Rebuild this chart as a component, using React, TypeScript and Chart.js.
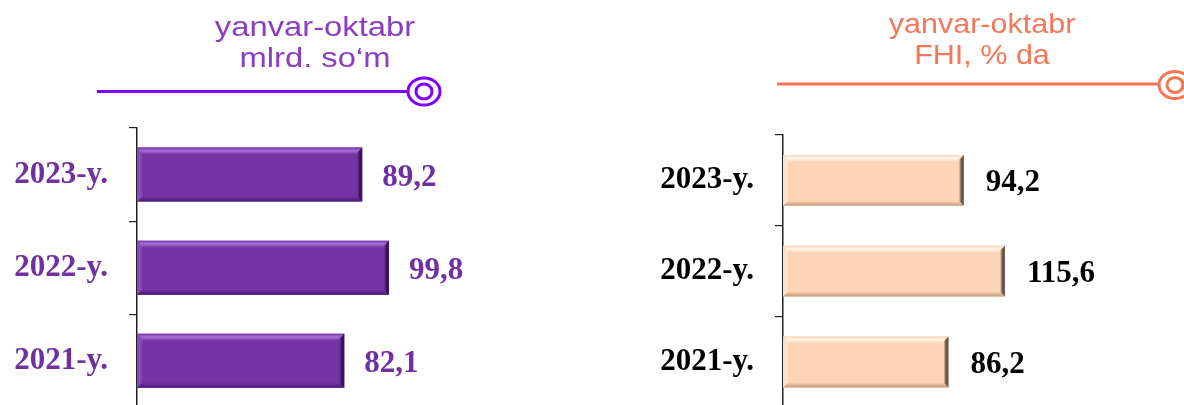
import React, { useEffect, useRef } from "react";
import { Chart, registerables } from "chart.js";

Chart.register(...registerables);

// ---- data ----
const categories = ["2023-y.", "2022-y.", "2021-y."];
const sumValues = [89.2, 99.8, 82.1]; // yanvar-oktabr, mlrd. so‘m
const fhiValues = [94.2, 115.6, 86.2]; // yanvar-oktabr, FHI, % da
const leftTitle = ["yanvar-oktabr", "mlrd. so‘m"];
const rightTitle = ["yanvar-oktabr", "FHI, % da"];

const fmt = (v: number) => v.toFixed(1).replace(".", ",");

const CANVAS_H = 447;

type Panel = {
  values: number[];
  title: string[];
  left: number;
  width: number;
  axisX: number;
  top: number;
  padBottom: number;
  padRight: number;
  xMax: number;
  barPct: number;
  catColor: string;
  valColor: string;
  titleColor: string;
  lineColor: string;
  titleCx: number;
  titleY1: number;
  titleY2: number;
  titleScale: number;
  lineX0: number;
  lineY: number;
  circleX: number;
  circleY: number;
  body: string;
  topHi: string;
  leftHi: string;
  botDark: string;
  rightDark: string;
  bevel: number;
  labelGap: number;
};

const leftPanel: Panel = {
  values: sumValues,
  title: leftTitle,
  left: 0,
  width: 560,
  axisX: 137,
  top: 128,
  padBottom: 13,
  padRight: 19,
  xMax: 160,
  barPct: 0.58,
  catColor: "#7030a0",
  valColor: "#7030a0",
  titleColor: "#8b3dc4",
  lineColor: "#8000ff",
  titleCx: 315,
  titleY1: 36,
  titleY2: 67,
  titleScale: 1.17,
  lineX0: 97,
  lineY: 91.5,
  circleX: 424,
  circleY: 91.5,
  body: "#7533a6",
  topHi: "#a772d6",
  leftHi: "#8a4cbc",
  botDark: "#4a1872",
  rightDark: "#3a1060",
  bevel: 5,
  labelGap: 20,
};

const rightPanel: Panel = {
  values: fhiValues,
  title: rightTitle,
  left: 560,
  width: 624,
  axisX: 223,
  top: 135,
  padBottom: 12,
  padRight: 17,
  xMax: 200,
  barPct: 0.56,
  catColor: "#000000",
  valColor: "#000000",
  titleColor: "#f4775a",
  lineColor: "#f47454",
  titleCx: 422,
  titleY1: 33,
  titleY2: 64,
  titleScale: 1.09,
  lineX0: 217,
  lineY: 84,
  circleX: 615,
  circleY: 85,
  body: "#fbd5b6",
  topHi: "#fff6ee",
  leftHi: "#fde3cd",
  botDark: "#c39877",
  rightDark: "#6a564a",
  bevel: 5,
  labelGap: 22,
};

function poly(ctx: CanvasRenderingContext2D, pts: number[][], fill: string | CanvasGradient) {
  ctx.beginPath();
  ctx.moveTo(pts[0][0], pts[0][1]);
  for (let i = 1; i < pts.length; i++) ctx.lineTo(pts[i][0], pts[i][1]);
  ctx.closePath();
  ctx.fillStyle = fill;
  ctx.fill();
}

function makePlugins(p: Panel) {
  const header = {
    id: "header",
    afterDraw(chart: any) {
      const ctx: CanvasRenderingContext2D = chart.ctx;
      ctx.save();
      ctx.fillStyle = p.titleColor;
      ctx.font = '28px "Liberation Sans", Arial, sans-serif';
      ctx.textAlign = "center";
      ctx.textBaseline = "alphabetic";
      [p.titleY1, p.titleY2].forEach((yy, i) => {
        ctx.save();
        ctx.translate(p.titleCx, yy);
        ctx.scale(p.titleScale, 1);
        ctx.fillText(p.title[i], 0, 0);
        ctx.restore();
      });
      ctx.strokeStyle = p.lineColor;
      ctx.lineWidth = 3;
      ctx.beginPath();
      ctx.moveTo(p.lineX0, p.lineY);
      ctx.lineTo(p.circleX - 16, p.lineY);
      ctx.stroke();
      ctx.beginPath();
      ctx.ellipse(p.circleX, p.circleY, 16, 13.5, 0, 0, Math.PI * 2);
      ctx.fillStyle = "#ffffff";
      ctx.fill();
      ctx.stroke();
      ctx.beginPath();
      ctx.ellipse(p.circleX, p.circleY, 8, 7.5, 0, 0, Math.PI * 2);
      ctx.stroke();
      ctx.restore();
    },
  };

  const bevel = {
    id: "bevel",
    afterDatasetsDraw(chart: any) {
      const ctx: CanvasRenderingContext2D = chart.ctx;
      const meta = chart.getDatasetMeta(0);
      ctx.save();
      meta.data.forEach((el: any) => {
        const { x, y, base, height } = el.getProps(["x", "y", "base", "height"], true);
        const l = Math.min(base, x);
        const r = Math.max(base, x);
        const t = y - height / 2;
        const b = y + height / 2;
        const s = p.bevel;
        const gTop = ctx.createLinearGradient(0, t, 0, t + s + 2);
        gTop.addColorStop(0, p.body);
        gTop.addColorStop(0.45, p.topHi);
        gTop.addColorStop(1, p.body);
        poly(ctx, [[l, t], [r, t], [r - s, t + s + 2], [l + s, t + s + 2]], gTop);
        const gBot = ctx.createLinearGradient(0, b - s, 0, b);
        gBot.addColorStop(0, p.body);
        gBot.addColorStop(1, p.botDark);
        poly(ctx, [[l, b], [r, b], [r - s, b - s], [l + s, b - s]], gBot);
        poly(ctx, [[l, t], [l + s, t + s], [l + s, b - s], [l, b]], p.leftHi);
        const gR = ctx.createLinearGradient(r - s, 0, r, 0);
        gR.addColorStop(0, p.body);
        gR.addColorStop(0.5, p.rightDark);
        gR.addColorStop(1, p.rightDark);
        poly(ctx, [[r, t], [r - s, t + s], [r - s, b - s], [r, b]], gR);
      });
      ctx.restore();
    },
  };

  const values = {
    id: "values",
    afterDatasetsDraw(chart: any) {
      const ctx: CanvasRenderingContext2D = chart.ctx;
      const meta = chart.getDatasetMeta(0);
      ctx.save();
      ctx.fillStyle = p.valColor;
      ctx.font = 'bold 31px "Liberation Serif", "Times New Roman", serif';
      ctx.textAlign = "left";
      ctx.textBaseline = "middle";
      meta.data.forEach((el: any, i: number) => {
        const { x, y } = el.getProps(["x", "y"], true);
        ctx.fillText(fmt(p.values[i]), x + p.labelGap, y + 3);
      });
      ctx.restore();
    },
  };

  return [header, bevel, values];
}

function BarPanel({ p }: { p: Panel }) {
  const ref = useRef<HTMLCanvasElement>(null);
  useEffect(() => {
    if (!ref.current) return;
    const chart = new Chart(ref.current, {
      type: "bar",
      data: {
        labels: categories,
        datasets: [
          {
            data: p.values,
            backgroundColor: p.body,
            borderWidth: 0,
            barPercentage: p.barPct,
            categoryPercentage: 1,
          },
        ],
      },
      options: {
        indexAxis: "y",
        responsive: false,
        maintainAspectRatio: false,
        animation: false,
        events: [],
        layout: { padding: { top: p.top, left: 0, right: p.padRight, bottom: p.padBottom } },
        plugins: { legend: { display: false }, tooltip: { enabled: false }, title: { display: false } },
        scales: {
          x: { display: false, min: 0, max: p.xMax },
          y: {
            afterFit: (s: any) => {
              s.width = p.axisX;
            },
            grid: { drawOnChartArea: false, tickLength: 8, color: "#222222", lineWidth: 1.2, offset: true },
            border: { display: true, color: "#222222", width: 1.5 },
            ticks: {
              color: p.catColor,
              font: { family: '"Liberation Serif", "Times New Roman", serif', size: 31, weight: "bold" },
              padding: 21,
            },
          },
        },
      } as any,
      plugins: makePlugins(p) as any,
    });
    return () => chart.destroy();
  }, []);
  return (
    <canvas
      ref={ref}
      width={p.width}
      height={CANVAS_H}
      style={{ position: "absolute", left: p.left, top: 0, width: p.width, height: CANVAS_H }}
    />
  );
}

export default function App() {
  return (
    <div
      style={{
        position: "fixed",
        left: 0,
        top: 0,
        width: 1184,
        height: 405,
        overflow: "hidden",
        background: "#ffffff",
      }}
    >
      <BarPanel p={leftPanel} />
      <BarPanel p={rightPanel} />
    </div>
  );
}
